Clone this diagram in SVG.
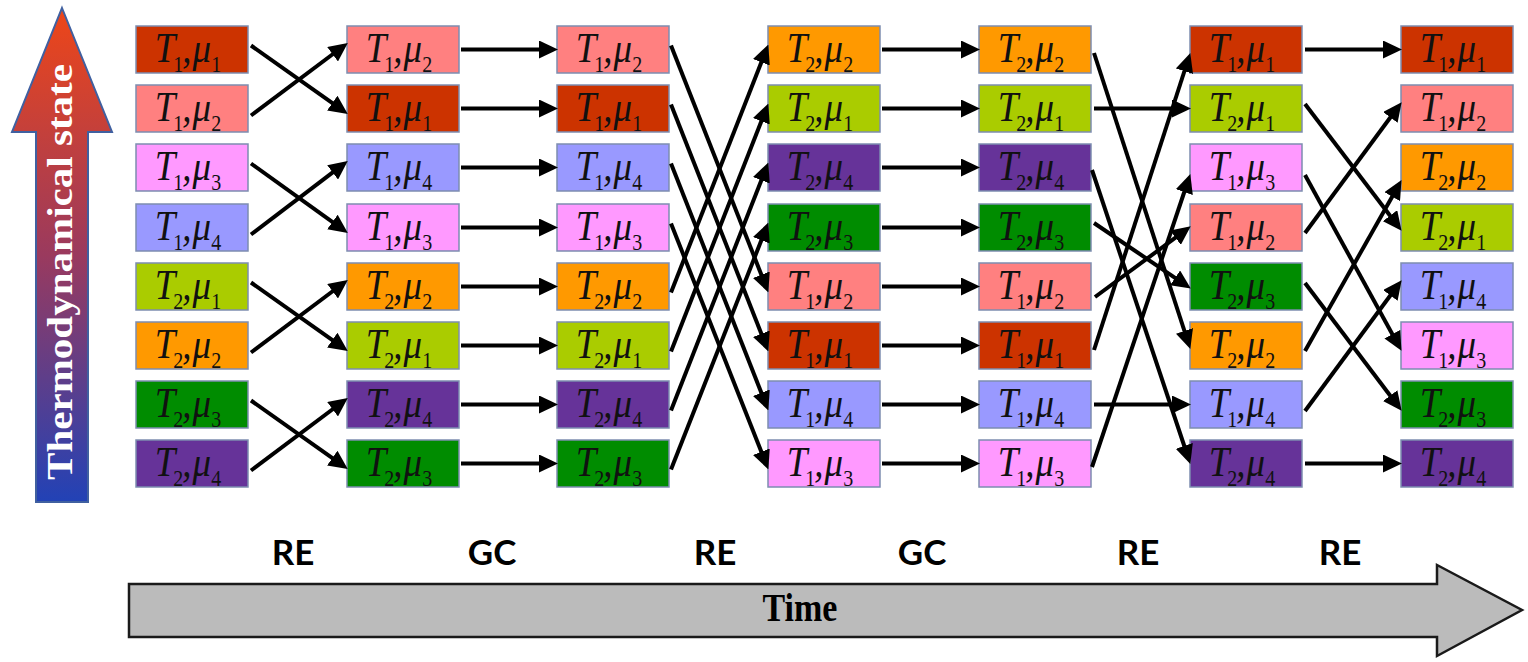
<svg xmlns="http://www.w3.org/2000/svg" width="1528" height="662" viewBox="0 0 1528 662">
<defs>
<style>
.n rect{stroke:#7d8db0;stroke-width:1.5}
.k11 rect{fill:#CC3300}.k12 rect{fill:#FF8080}.k13 rect{fill:#FF99FF}.k14 rect{fill:#9999FF}
.k21 rect{fill:#AACC00}.k22 rect{fill:#FF9900}.k23 rect{fill:#008C00}.k24 rect{fill:#663399}
.lbl{font-family:"Liberation Serif",serif;font-style:italic;font-size:37px;fill:#111;text-anchor:middle;transform:scale(1,1.15);transform-origin:0 36px}
.sub{font-size:20px;font-style:normal}
.a{stroke:#000;stroke-width:4;fill:none;marker-end:url(#ah)}
.step{font-family:Lato,"Liberation Sans",sans-serif;font-weight:bold;font-size:35px;fill:#000;text-anchor:middle}
</style>
<marker id="ah" markerUnits="userSpaceOnUse" markerWidth="19" markerHeight="18" viewBox="0 0 19 18" refX="8" refY="9" orient="auto"><path d="M0,0 L19,9 L0,18 Z" fill="#000"/></marker>
<linearGradient id="tg" x1="0" y1="0" x2="0" y2="1"><stop offset="0" stop-color="#EE4618"/><stop offset="0.5" stop-color="#9A3A5E"/><stop offset="1" stop-color="#2242B6"/></linearGradient>
</defs>
<rect width="1528" height="662" fill="#fff"/>

<g id="thermo">
<path d="M62,8 L112,132 L88,132 L88,502 L36,502 L36,132 L12,132 Z" fill="url(#tg)" stroke="#4060A0" stroke-width="2"/>
<text transform="translate(72,272) rotate(-90) scale(1.14,1)" font-family="Liberation Serif,serif" font-weight="bold" font-size="36" fill="#fff" text-anchor="middle">Thermodynamical state</text>
</g>

<g id="time">
<path d="M129,584 L1437,584 L1437,565 L1522,610 L1437,656 L1437,637 L129,637 Z" fill="#BBBBBB" stroke="#1a1a1a" stroke-width="2.5"/>
<text transform="translate(800,621) scale(1,1.2)" font-family="Liberation Serif,serif" font-weight="bold" font-size="34" fill="#000" text-anchor="middle">Time</text>
</g>

<g id="steps">
<text class="step" x="293" y="565">RE</text>
<text class="step" x="492" y="565">GC</text>
<text class="step" x="715" y="565">RE</text>
<text class="step" x="922" y="565">GC</text>
<text class="step" x="1138" y="565">RE</text>
<text class="step" x="1340" y="565">RE</text>
</g>

<g id="nodes">
<!-- column 1 -->
<g id="c1r1" class="n k11" transform="translate(136,26)"><rect width="112" height="47"/><text class="lbl" x="52" y="36">T<tspan class="sub" dy="9" dx="-2">1</tspan><tspan dy="-9" dx="-1">,</tspan><tspan dx="1">μ</tspan><tspan class="sub" dy="9">1</tspan></text></g>
<g id="c1r2" class="n k12" transform="translate(136,85)"><rect width="112" height="47"/><text class="lbl" x="52" y="36">T<tspan class="sub" dy="9" dx="-2">1</tspan><tspan dy="-9" dx="-1">,</tspan><tspan dx="1">μ</tspan><tspan class="sub" dy="9">2</tspan></text></g>
<g id="c1r3" class="n k13" transform="translate(136,144)"><rect width="112" height="47"/><text class="lbl" x="52" y="36">T<tspan class="sub" dy="9" dx="-2">1</tspan><tspan dy="-9" dx="-1">,</tspan><tspan dx="1">μ</tspan><tspan class="sub" dy="9">3</tspan></text></g>
<g id="c1r4" class="n k14" transform="translate(136,204)"><rect width="112" height="47"/><text class="lbl" x="52" y="36">T<tspan class="sub" dy="9" dx="-2">1</tspan><tspan dy="-9" dx="-1">,</tspan><tspan dx="1">μ</tspan><tspan class="sub" dy="9">4</tspan></text></g>
<g id="c1r5" class="n k21" transform="translate(136,263)"><rect width="112" height="47"/><text class="lbl" x="52" y="36">T<tspan class="sub" dy="9" dx="-2">2</tspan><tspan dy="-9" dx="-1">,</tspan><tspan dx="1">μ</tspan><tspan class="sub" dy="9">1</tspan></text></g>
<g id="c1r6" class="n k22" transform="translate(136,322)"><rect width="112" height="47"/><text class="lbl" x="52" y="36">T<tspan class="sub" dy="9" dx="-2">2</tspan><tspan dy="-9" dx="-1">,</tspan><tspan dx="1">μ</tspan><tspan class="sub" dy="9">2</tspan></text></g>
<g id="c1r7" class="n k23" transform="translate(136,381)"><rect width="112" height="47"/><text class="lbl" x="52" y="36">T<tspan class="sub" dy="9" dx="-2">2</tspan><tspan dy="-9" dx="-1">,</tspan><tspan dx="1">μ</tspan><tspan class="sub" dy="9">3</tspan></text></g>
<g id="c1r8" class="n k24" transform="translate(136,440)"><rect width="112" height="47"/><text class="lbl" x="52" y="36">T<tspan class="sub" dy="9" dx="-2">2</tspan><tspan dy="-9" dx="-1">,</tspan><tspan dx="1">μ</tspan><tspan class="sub" dy="9">4</tspan></text></g>
<!-- column 2 -->
<g id="c2r1" class="n k12" transform="translate(347,26)"><rect width="112" height="47"/><text class="lbl" x="52" y="36">T<tspan class="sub" dy="9" dx="-2">1</tspan><tspan dy="-9" dx="-1">,</tspan><tspan dx="1">μ</tspan><tspan class="sub" dy="9">2</tspan></text></g>
<g id="c2r2" class="n k11" transform="translate(347,85)"><rect width="112" height="47"/><text class="lbl" x="52" y="36">T<tspan class="sub" dy="9" dx="-2">1</tspan><tspan dy="-9" dx="-1">,</tspan><tspan dx="1">μ</tspan><tspan class="sub" dy="9">1</tspan></text></g>
<g id="c2r3" class="n k14" transform="translate(347,144)"><rect width="112" height="47"/><text class="lbl" x="52" y="36">T<tspan class="sub" dy="9" dx="-2">1</tspan><tspan dy="-9" dx="-1">,</tspan><tspan dx="1">μ</tspan><tspan class="sub" dy="9">4</tspan></text></g>
<g id="c2r4" class="n k13" transform="translate(347,204)"><rect width="112" height="47"/><text class="lbl" x="52" y="36">T<tspan class="sub" dy="9" dx="-2">1</tspan><tspan dy="-9" dx="-1">,</tspan><tspan dx="1">μ</tspan><tspan class="sub" dy="9">3</tspan></text></g>
<g id="c2r5" class="n k22" transform="translate(347,263)"><rect width="112" height="47"/><text class="lbl" x="52" y="36">T<tspan class="sub" dy="9" dx="-2">2</tspan><tspan dy="-9" dx="-1">,</tspan><tspan dx="1">μ</tspan><tspan class="sub" dy="9">2</tspan></text></g>
<g id="c2r6" class="n k21" transform="translate(347,322)"><rect width="112" height="47"/><text class="lbl" x="52" y="36">T<tspan class="sub" dy="9" dx="-2">2</tspan><tspan dy="-9" dx="-1">,</tspan><tspan dx="1">μ</tspan><tspan class="sub" dy="9">1</tspan></text></g>
<g id="c2r7" class="n k24" transform="translate(347,381)"><rect width="112" height="47"/><text class="lbl" x="52" y="36">T<tspan class="sub" dy="9" dx="-2">2</tspan><tspan dy="-9" dx="-1">,</tspan><tspan dx="1">μ</tspan><tspan class="sub" dy="9">4</tspan></text></g>
<g id="c2r8" class="n k23" transform="translate(347,440)"><rect width="112" height="47"/><text class="lbl" x="52" y="36">T<tspan class="sub" dy="9" dx="-2">2</tspan><tspan dy="-9" dx="-1">,</tspan><tspan dx="1">μ</tspan><tspan class="sub" dy="9">3</tspan></text></g>
<!-- column 3 -->
<g id="c3r1" class="n k12" transform="translate(557,26)"><rect width="112" height="47"/><text class="lbl" x="52" y="36">T<tspan class="sub" dy="9" dx="-2">1</tspan><tspan dy="-9" dx="-1">,</tspan><tspan dx="1">μ</tspan><tspan class="sub" dy="9">2</tspan></text></g>
<g id="c3r2" class="n k11" transform="translate(557,85)"><rect width="112" height="47"/><text class="lbl" x="52" y="36">T<tspan class="sub" dy="9" dx="-2">1</tspan><tspan dy="-9" dx="-1">,</tspan><tspan dx="1">μ</tspan><tspan class="sub" dy="9">1</tspan></text></g>
<g id="c3r3" class="n k14" transform="translate(557,144)"><rect width="112" height="47"/><text class="lbl" x="52" y="36">T<tspan class="sub" dy="9" dx="-2">1</tspan><tspan dy="-9" dx="-1">,</tspan><tspan dx="1">μ</tspan><tspan class="sub" dy="9">4</tspan></text></g>
<g id="c3r4" class="n k13" transform="translate(557,204)"><rect width="112" height="47"/><text class="lbl" x="52" y="36">T<tspan class="sub" dy="9" dx="-2">1</tspan><tspan dy="-9" dx="-1">,</tspan><tspan dx="1">μ</tspan><tspan class="sub" dy="9">3</tspan></text></g>
<g id="c3r5" class="n k22" transform="translate(557,263)"><rect width="112" height="47"/><text class="lbl" x="52" y="36">T<tspan class="sub" dy="9" dx="-2">2</tspan><tspan dy="-9" dx="-1">,</tspan><tspan dx="1">μ</tspan><tspan class="sub" dy="9">2</tspan></text></g>
<g id="c3r6" class="n k21" transform="translate(557,322)"><rect width="112" height="47"/><text class="lbl" x="52" y="36">T<tspan class="sub" dy="9" dx="-2">2</tspan><tspan dy="-9" dx="-1">,</tspan><tspan dx="1">μ</tspan><tspan class="sub" dy="9">1</tspan></text></g>
<g id="c3r7" class="n k24" transform="translate(557,381)"><rect width="112" height="47"/><text class="lbl" x="52" y="36">T<tspan class="sub" dy="9" dx="-2">2</tspan><tspan dy="-9" dx="-1">,</tspan><tspan dx="1">μ</tspan><tspan class="sub" dy="9">4</tspan></text></g>
<g id="c3r8" class="n k23" transform="translate(557,440)"><rect width="112" height="47"/><text class="lbl" x="52" y="36">T<tspan class="sub" dy="9" dx="-2">2</tspan><tspan dy="-9" dx="-1">,</tspan><tspan dx="1">μ</tspan><tspan class="sub" dy="9">3</tspan></text></g>
<!-- column 4 -->
<g id="c4r1" class="n k22" transform="translate(768,26)"><rect width="112" height="47"/><text class="lbl" x="52" y="36">T<tspan class="sub" dy="9" dx="-2">2</tspan><tspan dy="-9" dx="-1">,</tspan><tspan dx="1">μ</tspan><tspan class="sub" dy="9">2</tspan></text></g>
<g id="c4r2" class="n k21" transform="translate(768,85)"><rect width="112" height="47"/><text class="lbl" x="52" y="36">T<tspan class="sub" dy="9" dx="-2">2</tspan><tspan dy="-9" dx="-1">,</tspan><tspan dx="1">μ</tspan><tspan class="sub" dy="9">1</tspan></text></g>
<g id="c4r3" class="n k24" transform="translate(768,144)"><rect width="112" height="47"/><text class="lbl" x="52" y="36">T<tspan class="sub" dy="9" dx="-2">2</tspan><tspan dy="-9" dx="-1">,</tspan><tspan dx="1">μ</tspan><tspan class="sub" dy="9">4</tspan></text></g>
<g id="c4r4" class="n k23" transform="translate(768,204)"><rect width="112" height="47"/><text class="lbl" x="52" y="36">T<tspan class="sub" dy="9" dx="-2">2</tspan><tspan dy="-9" dx="-1">,</tspan><tspan dx="1">μ</tspan><tspan class="sub" dy="9">3</tspan></text></g>
<g id="c4r5" class="n k12" transform="translate(768,263)"><rect width="112" height="47"/><text class="lbl" x="52" y="36">T<tspan class="sub" dy="9" dx="-2">1</tspan><tspan dy="-9" dx="-1">,</tspan><tspan dx="1">μ</tspan><tspan class="sub" dy="9">2</tspan></text></g>
<g id="c4r6" class="n k11" transform="translate(768,322)"><rect width="112" height="47"/><text class="lbl" x="52" y="36">T<tspan class="sub" dy="9" dx="-2">1</tspan><tspan dy="-9" dx="-1">,</tspan><tspan dx="1">μ</tspan><tspan class="sub" dy="9">1</tspan></text></g>
<g id="c4r7" class="n k14" transform="translate(768,381)"><rect width="112" height="47"/><text class="lbl" x="52" y="36">T<tspan class="sub" dy="9" dx="-2">1</tspan><tspan dy="-9" dx="-1">,</tspan><tspan dx="1">μ</tspan><tspan class="sub" dy="9">4</tspan></text></g>
<g id="c4r8" class="n k13" transform="translate(768,440)"><rect width="112" height="47"/><text class="lbl" x="52" y="36">T<tspan class="sub" dy="9" dx="-2">1</tspan><tspan dy="-9" dx="-1">,</tspan><tspan dx="1">μ</tspan><tspan class="sub" dy="9">3</tspan></text></g>
<!-- column 5 -->
<g id="c5r1" class="n k22" transform="translate(979,26)"><rect width="112" height="47"/><text class="lbl" x="52" y="36">T<tspan class="sub" dy="9" dx="-2">2</tspan><tspan dy="-9" dx="-1">,</tspan><tspan dx="1">μ</tspan><tspan class="sub" dy="9">2</tspan></text></g>
<g id="c5r2" class="n k21" transform="translate(979,85)"><rect width="112" height="47"/><text class="lbl" x="52" y="36">T<tspan class="sub" dy="9" dx="-2">2</tspan><tspan dy="-9" dx="-1">,</tspan><tspan dx="1">μ</tspan><tspan class="sub" dy="9">1</tspan></text></g>
<g id="c5r3" class="n k24" transform="translate(979,144)"><rect width="112" height="47"/><text class="lbl" x="52" y="36">T<tspan class="sub" dy="9" dx="-2">2</tspan><tspan dy="-9" dx="-1">,</tspan><tspan dx="1">μ</tspan><tspan class="sub" dy="9">4</tspan></text></g>
<g id="c5r4" class="n k23" transform="translate(979,204)"><rect width="112" height="47"/><text class="lbl" x="52" y="36">T<tspan class="sub" dy="9" dx="-2">2</tspan><tspan dy="-9" dx="-1">,</tspan><tspan dx="1">μ</tspan><tspan class="sub" dy="9">3</tspan></text></g>
<g id="c5r5" class="n k12" transform="translate(979,263)"><rect width="112" height="47"/><text class="lbl" x="52" y="36">T<tspan class="sub" dy="9" dx="-2">1</tspan><tspan dy="-9" dx="-1">,</tspan><tspan dx="1">μ</tspan><tspan class="sub" dy="9">2</tspan></text></g>
<g id="c5r6" class="n k11" transform="translate(979,322)"><rect width="112" height="47"/><text class="lbl" x="52" y="36">T<tspan class="sub" dy="9" dx="-2">1</tspan><tspan dy="-9" dx="-1">,</tspan><tspan dx="1">μ</tspan><tspan class="sub" dy="9">1</tspan></text></g>
<g id="c5r7" class="n k14" transform="translate(979,381)"><rect width="112" height="47"/><text class="lbl" x="52" y="36">T<tspan class="sub" dy="9" dx="-2">1</tspan><tspan dy="-9" dx="-1">,</tspan><tspan dx="1">μ</tspan><tspan class="sub" dy="9">4</tspan></text></g>
<g id="c5r8" class="n k13" transform="translate(979,440)"><rect width="112" height="47"/><text class="lbl" x="52" y="36">T<tspan class="sub" dy="9" dx="-2">1</tspan><tspan dy="-9" dx="-1">,</tspan><tspan dx="1">μ</tspan><tspan class="sub" dy="9">3</tspan></text></g>
<!-- column 6 -->
<g id="c6r1" class="n k11" transform="translate(1190,26)"><rect width="112" height="47"/><text class="lbl" x="52" y="36">T<tspan class="sub" dy="9" dx="-2">1</tspan><tspan dy="-9" dx="-1">,</tspan><tspan dx="1">μ</tspan><tspan class="sub" dy="9">1</tspan></text></g>
<g id="c6r2" class="n k21" transform="translate(1190,85)"><rect width="112" height="47"/><text class="lbl" x="52" y="36">T<tspan class="sub" dy="9" dx="-2">2</tspan><tspan dy="-9" dx="-1">,</tspan><tspan dx="1">μ</tspan><tspan class="sub" dy="9">1</tspan></text></g>
<g id="c6r3" class="n k13" transform="translate(1190,144)"><rect width="112" height="47"/><text class="lbl" x="52" y="36">T<tspan class="sub" dy="9" dx="-2">1</tspan><tspan dy="-9" dx="-1">,</tspan><tspan dx="1">μ</tspan><tspan class="sub" dy="9">3</tspan></text></g>
<g id="c6r4" class="n k12" transform="translate(1190,204)"><rect width="112" height="47"/><text class="lbl" x="52" y="36">T<tspan class="sub" dy="9" dx="-2">1</tspan><tspan dy="-9" dx="-1">,</tspan><tspan dx="1">μ</tspan><tspan class="sub" dy="9">2</tspan></text></g>
<g id="c6r5" class="n k23" transform="translate(1190,263)"><rect width="112" height="47"/><text class="lbl" x="52" y="36">T<tspan class="sub" dy="9" dx="-2">2</tspan><tspan dy="-9" dx="-1">,</tspan><tspan dx="1">μ</tspan><tspan class="sub" dy="9">3</tspan></text></g>
<g id="c6r6" class="n k22" transform="translate(1190,322)"><rect width="112" height="47"/><text class="lbl" x="52" y="36">T<tspan class="sub" dy="9" dx="-2">2</tspan><tspan dy="-9" dx="-1">,</tspan><tspan dx="1">μ</tspan><tspan class="sub" dy="9">2</tspan></text></g>
<g id="c6r7" class="n k14" transform="translate(1190,381)"><rect width="112" height="47"/><text class="lbl" x="52" y="36">T<tspan class="sub" dy="9" dx="-2">1</tspan><tspan dy="-9" dx="-1">,</tspan><tspan dx="1">μ</tspan><tspan class="sub" dy="9">4</tspan></text></g>
<g id="c6r8" class="n k24" transform="translate(1190,440)"><rect width="112" height="47"/><text class="lbl" x="52" y="36">T<tspan class="sub" dy="9" dx="-2">2</tspan><tspan dy="-9" dx="-1">,</tspan><tspan dx="1">μ</tspan><tspan class="sub" dy="9">4</tspan></text></g>
<!-- column 7 -->
<g id="c7r1" class="n k11" transform="translate(1401,26)"><rect width="112" height="47"/><text class="lbl" x="52" y="36">T<tspan class="sub" dy="9" dx="-2">1</tspan><tspan dy="-9" dx="-1">,</tspan><tspan dx="1">μ</tspan><tspan class="sub" dy="9">1</tspan></text></g>
<g id="c7r2" class="n k12" transform="translate(1401,85)"><rect width="112" height="47"/><text class="lbl" x="52" y="36">T<tspan class="sub" dy="9" dx="-2">1</tspan><tspan dy="-9" dx="-1">,</tspan><tspan dx="1">μ</tspan><tspan class="sub" dy="9">2</tspan></text></g>
<g id="c7r3" class="n k22" transform="translate(1401,144)"><rect width="112" height="47"/><text class="lbl" x="52" y="36">T<tspan class="sub" dy="9" dx="-2">2</tspan><tspan dy="-9" dx="-1">,</tspan><tspan dx="1">μ</tspan><tspan class="sub" dy="9">2</tspan></text></g>
<g id="c7r4" class="n k21" transform="translate(1401,204)"><rect width="112" height="47"/><text class="lbl" x="52" y="36">T<tspan class="sub" dy="9" dx="-2">2</tspan><tspan dy="-9" dx="-1">,</tspan><tspan dx="1">μ</tspan><tspan class="sub" dy="9">1</tspan></text></g>
<g id="c7r5" class="n k14" transform="translate(1401,263)"><rect width="112" height="47"/><text class="lbl" x="52" y="36">T<tspan class="sub" dy="9" dx="-2">1</tspan><tspan dy="-9" dx="-1">,</tspan><tspan dx="1">μ</tspan><tspan class="sub" dy="9">4</tspan></text></g>
<g id="c7r6" class="n k13" transform="translate(1401,322)"><rect width="112" height="47"/><text class="lbl" x="52" y="36">T<tspan class="sub" dy="9" dx="-2">1</tspan><tspan dy="-9" dx="-1">,</tspan><tspan dx="1">μ</tspan><tspan class="sub" dy="9">3</tspan></text></g>
<g id="c7r7" class="n k23" transform="translate(1401,381)"><rect width="112" height="47"/><text class="lbl" x="52" y="36">T<tspan class="sub" dy="9" dx="-2">2</tspan><tspan dy="-9" dx="-1">,</tspan><tspan dx="1">μ</tspan><tspan class="sub" dy="9">3</tspan></text></g>
<g id="c7r8" class="n k24" transform="translate(1401,440)"><rect width="112" height="47"/><text class="lbl" x="52" y="36">T<tspan class="sub" dy="9" dx="-2">2</tspan><tspan dy="-9" dx="-1">,</tspan><tspan dx="1">μ</tspan><tspan class="sub" dy="9">4</tspan></text></g>
</g>

<g id="connectors">
<!-- RE col1 -> col2 -->
<path class="a" d="M251,45.5 L338.8,107.7"/>
<path class="a" d="M251,115.5 L339,49.5"/>
<path class="a" d="M251,163.5 L338.9,226.7"/>
<path class="a" d="M251,234.5 L339,167.6"/>
<path class="a" d="M251,282.5 L338.8,344.7"/>
<path class="a" d="M251,352.5 L339,286.5"/>
<path class="a" d="M251,400.5 L338.8,462.7"/>
<path class="a" d="M251,470.5 L339,404.5"/>
<!-- GC col2 -> col3 -->
<path class="a" d="M461,49.5 L547,49.5"/>
<path class="a" d="M461,108.5 L547,108.5"/>
<path class="a" d="M461,167.5 L547,167.5"/>
<path class="a" d="M461,227.5 L547,227.5"/>
<path class="a" d="M461,286.5 L547,286.5"/>
<path class="a" d="M461,345.5 L547,345.5"/>
<path class="a" d="M461,404.5 L547,404.5"/>
<path class="a" d="M461,463.5 L547,463.5"/>
<!-- RE col3 -> col4 -->
<path class="a" d="M671,45.5 L764.3,282.2"/>
<path class="a" d="M671,104.5 L764.3,341.2"/>
<path class="a" d="M671,163.5 L764.3,400.2"/>
<path class="a" d="M671,223.5 L764.3,459.2"/>
<path class="a" d="M671,292.5 L764.3,54.8"/>
<path class="a" d="M671,351.5 L764.3,113.8"/>
<path class="a" d="M671,410.5 L764.3,172.8"/>
<path class="a" d="M671,469.5 L764.3,232.8"/>
<!-- GC col4 -> col5 -->
<path class="a" d="M882,49.5 L969,49.5"/>
<path class="a" d="M882,108.5 L969,108.5"/>
<path class="a" d="M882,167.5 L969,167.5"/>
<path class="a" d="M882,227.5 L969,227.5"/>
<path class="a" d="M882,286.5 L969,286.5"/>
<path class="a" d="M882,345.5 L969,345.5"/>
<path class="a" d="M882,404.5 L969,404.5"/>
<path class="a" d="M882,463.5 L969,463.5"/>
<!-- RE col5 -> col6 -->
<path class="a" d="M1094,53 L1186.9,338.5"/>
<path class="a" d="M1094,108.5 L1180,108.5"/>
<path class="a" d="M1092,170 L1186.8,453.5"/>
<path class="a" d="M1094,223 L1181.7,282.4"/>
<path class="a" d="M1095,297 L1181.9,232.9"/>
<path class="a" d="M1094,350 L1186.9,63.5"/>
<path class="a" d="M1094,404.5 L1180,404.5"/>
<path class="a" d="M1092,467 L1186.8,184.5"/>
<!-- RE col6 -> col7 -->
<path class="a" d="M1305,49.5 L1391,49.5"/>
<path class="a" d="M1305,104 L1394.9,222"/>
<path class="a" d="M1305,175 L1396.2,341.2"/>
<path class="a" d="M1305,233 L1395.1,111"/>
<path class="a" d="M1305,283 L1395,402"/>
<path class="a" d="M1305,351 L1396.1,189.7"/>
<path class="a" d="M1305,411 L1395.1,289"/>
<path class="a" d="M1305,463.5 L1391,463.5"/>
</g>
</svg>
